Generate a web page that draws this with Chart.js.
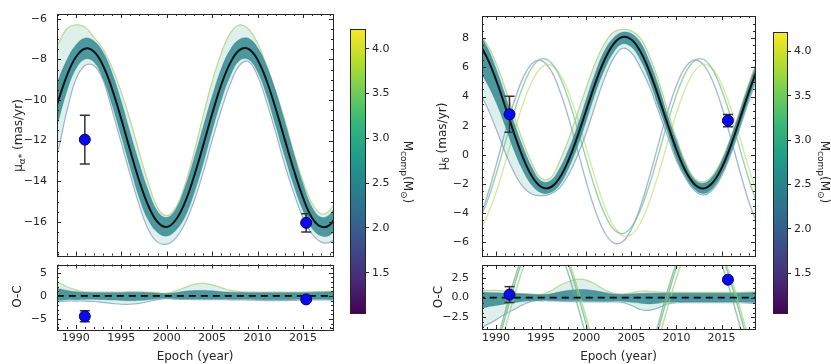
<!DOCTYPE html>
<html>
<head>
<meta charset="utf-8">
<script src="https://cdn.jsdelivr.net/npm/chart.js@4.4.1/dist/chart.umd.min.js"></script>
<style>
html, body { margin: 0; padding: 0; background: #fff; }
#fig { position: relative; width: 831px; height: 364px; overflow: hidden; }
#fig canvas { position: absolute; }
</style>
</head>
<body>
<div id="fig">
  <canvas id="muaMain" width="345" height="262" style="left:0;top:0"></canvas>
  <canvas id="muaRes" width="345" height="106" style="left:0;top:258px"></canvas>
  <canvas id="muaBar" width="80" height="330" style="left:340px;top:0"></canvas>
  <canvas id="mudMain" width="345" height="262" style="left:420px;top:0"></canvas>
  <canvas id="mudRes" width="345" height="106" style="left:420px;top:258px"></canvas>
  <canvas id="mudBar" width="68" height="330" style="left:763px;top:0"></canvas>
</div>
<script>
// sampled epochs of the orbit curves (years)
var epochs = [1987,1988,1989,1990,1991,1992,1993,1994,1995,1996,1997,1998,1999,2000,2001,2002,2003,2004,2005,2006,2007,2008,2009,2010,2011,2012,2013,2014,2015,2016,2017,2018,2019];

// tick labels
var epochTicks = [1990, 1995, 2000, 2005, 2010, 2015];
var muaTicks = [-16, -14, -12, -10, -8, -6];
var muaResTicks = [-5, 0, 5];
var mudTicks = [-6, -4, -2, 0, 2, 4, 6, 8];
var mudResTicks = [-2.5, 0, 2.5];
var massTicks = [1.5, 2.0, 2.5, 3.0, 3.5, 4.0];
var massRange = [1.05, 4.22];

// mu_alpha* : best orbit, dense spread of draws, outer envelope of draws
var muaBest = [-11.71,-10.16,-8.83,-7.89,-7.47,-7.61,-8.30,-9.46,-10.92,-12.50,-14.00,-15.22,-16.01,-16.25,-15.91,-15.06,-13.78,-12.27,-10.69,-9.26,-8.17,-7.54,-7.48,-8.01,-9.05,-10.43,-11.95,-13.46,-14.81,-15.81,-16.24,-16.13,-15.43];
var muaInHi = [-10.54,-9.12,-8.05,-7.30,-6.95,-7.09,-7.65,-8.68,-10.07,-11.65,-13.15,-14.50,-15.49,-15.79,-15.39,-14.34,-12.93,-11.36,-9.84,-8.48,-7.52,-7.02,-6.96,-7.42,-8.33,-9.58,-11.10,-12.68,-14.16,-15.29,-15.78,-15.61,-14.78];
var muaInLo = [-12.88,-11.20,-9.61,-8.48,-7.99,-8.13,-8.95,-10.24,-11.77,-13.35,-14.85,-15.94,-16.53,-16.71,-16.43,-15.78,-14.63,-13.18,-11.54,-10.04,-8.82,-8.06,-8.00,-8.60,-9.77,-11.28,-12.80,-14.24,-15.46,-16.33,-16.70,-16.65,-16.08];
var muaOutHi = [-8.0,-7.3,-6.5,-6.3,-6.4,-6.9,-7.5,-8.4,-9.6,-11.0,-12.6,-14.1,-15.3,-15.7,-15.3,-14.2,-12.6,-10.8,-9.1,-7.7,-6.7,-6.3,-6.5,-7.2,-8.3,-9.6,-11.0,-12.6,-14.0,-15.1,-15.6,-15.4,-14.6];
var muaOutLo = [-14.0,-12.6,-10.6,-9.0,-8.3,-8.3,-9.0,-10.5,-12.1,-13.7,-15.2,-16.4,-17.0,-17.1,-16.8,-16.1,-15.0,-13.6,-12.0,-10.5,-9.2,-8.3,-8.1,-8.8,-10.1,-11.6,-13.2,-14.6,-15.8,-16.6,-17.0,-17.0,-16.6];
var muaResInHi = [1.9,1.6,1.2,0.9,0.75,0.7,0.7,0.7,0.7,0.75,0.75,0.7,0.6,0.5,0.7,1.0,1.15,1.2,1.1,0.9,0.8,0.75,0.7,0.7,0.7,0.7,0.7,0.7,0.7,0.75,0.8,0.85,0.9];
var muaResInLo = [-1.2,-1.0,-0.8,-0.8,-0.75,-0.75,-0.8,-0.9,-1.0,-1.05,-1.0,-0.85,-0.6,-0.5,-0.6,-0.65,-0.65,-0.65,-0.65,-0.65,-0.7,-0.7,-0.7,-0.75,-0.8,-0.8,-0.8,-0.75,-0.7,-0.7,-0.7,-0.75,-0.8];
var muaResOutHi = [3.8,3.0,2.0,1.3,0.9,0.85,0.85,0.85,0.85,0.9,0.9,0.85,0.7,0.6,1.1,1.8,2.5,2.7,2.4,1.8,1.2,0.95,0.85,0.85,0.85,0.85,0.85,0.85,0.85,0.9,0.95,1.0,1.1];
var muaResOutLo = [-1.8,-1.3,-1.1,-1.1,-1.1,-1.2,-1.4,-1.6,-1.8,-1.8,-1.6,-1.2,-0.8,-0.6,-0.7,-0.75,-0.8,-0.8,-0.8,-0.8,-0.85,-0.85,-0.9,-0.95,-1.0,-1.0,-1.0,-0.95,-0.9,-0.85,-0.85,-0.9,-0.95];

// mu_delta
var mudBest = [8.10,7.69,6.67,5.15,3.35,1.48,-0.20,-1.48,-2.19,-2.24,-1.62,-0.42,1.21,3.06,4.90,6.47,7.58,8.08,7.91,7.09,5.73,4.00,2.13,0.35,-1.09,-2.01,-2.30,-1.91,-0.90,0.60,2.41,4.27,5.96];
var mudInHi = [8.6,8.3,7.4,5.9,4.1,2.2,0.5,-0.9,-1.8,-1.8,-1.0,0.3,1.9,3.8,5.6,7.1,8.0,8.4,8.3,7.7,6.4,4.7,2.7,0.95,-0.65,-1.7,-1.95,-1.5,-0.45,1.1,2.9,4.75,6.45];
var mudInLo = [6.6,5.9,4.9,3.6,2.0,0.3,-1.1,-2.1,-2.6,-2.6,-2.1,-1.0,0.5,2.3,4.2,5.8,7.0,7.6,7.4,6.5,5.1,3.3,1.6,-0.25,-1.5,-2.35,-2.65,-2.3,-1.35,0.1,1.9,3.8,5.5];
var mudOutHi = [8.8,8.4,7.6,6.3,4.6,2.7,0.9,-0.6,-1.6,-1.6,-0.5,1.0,2.8,4.6,6.3,7.6,8.4,8.6,8.5,8.0,6.8,5.1,3.1,1.1,-0.5,-1.6,-1.85,-1.4,-0.35,1.2,3.0,4.9,6.6];
var mudOutLo = [5.5,4.5,3.3,1.8,0.2,-1.2,-2.2,-2.7,-2.8,-2.7,-2.3,-1.4,-0.1,1.5,3.4,5.2,6.6,7.3,7.0,6.0,4.7,3.0,1.3,-0.4,-1.6,-2.45,-2.75,-2.4,-1.45,0.0,1.8,3.65,5.35];
var mudAlt1 = [-5.33,-4.62,-3.23,-1.35,0.79,2.90,4.72,6.00,6.58,6.38,5.44,3.86,1.87,-0.29,-2.34,-4.00,-5.07,-5.40,-4.95,-3.79,-2.05,0.03,2.18,4.13,5.62,6.46,6.54,5.85,4.47,2.60,0.46,-1.65,-3.47];
var mudAlt2 = [-5.60,-5.27,-4.22,-2.59,-0.58,1.55,3.51,5.05,5.98,6.18,5.61,4.35,2.56,0.49,-1.61,-3.47,-4.83,-5.53,-5.47,-4.67,-3.22,-1.31,0.81,2.86,4.57,5.74,6.20,5.89,4.86,3.23,1.23,-0.89,-2.86];
var mudAlt3 = [-5.75,-4.63,-2.88,-0.74,1.53,3.63,5.28,6.27,6.47,5.87,4.52,2.62,0.40,-1.84,-3.82,-5.28,-6.03,-5.96,-5.10,-3.55,-1.52,0.74,2.93,4.76,6.01,6.50,6.17,5.07,3.33,1.19,-1.07,-3.18,-4.84];
var mudResInHi = [1.1,0.8,0.65,0.6,0.55,0.5,0.45,0.4,0.35,0.45,0.7,0.9,1.0,1.0,0.85,0.65,0.45,0.4,0.45,0.5,0.55,0.55,0.55,0.55,0.55,0.55,0.55,0.55,0.55,0.55,0.55,0.6,0.65];
var mudResInLo = [-1.9,-1.5,-1.2,-1.0,-0.8,-0.65,-0.5,-0.4,-0.35,-0.35,-0.4,-0.4,-0.4,-0.45,-0.45,-0.45,-0.45,-0.45,-0.6,-0.7,-0.8,-0.7,-0.6,-0.55,-0.55,-0.55,-0.55,-0.55,-0.55,-0.55,-0.55,-0.6,-0.65];
var mudResOutHi = [1.5,1.0,0.9,0.9,0.8,0.6,0.5,0.45,0.4,0.8,1.5,2.0,2.3,2.2,1.7,1.0,0.55,0.45,0.6,0.8,0.8,0.7,0.65,0.65,0.65,0.65,0.65,0.65,0.65,0.65,0.65,0.7,0.75];
var mudResOutLo = [-4.8,-4.0,-3.4,-2.8,-2.1,-1.5,-0.9,-0.45,-0.4,-0.4,-0.45,-0.5,-0.5,-0.55,-0.55,-0.55,-0.55,-0.6,-1.0,-1.5,-1.6,-1.3,-0.8,-0.65,-0.65,-0.65,-0.65,-0.65,-0.65,-0.65,-0.65,-0.7,-0.75];
var mudResAlt1 = [-13.43,-12.31,-9.90,-6.50,-2.56,1.42,4.92,7.48,8.77,8.62,7.06,4.28,0.66,-3.35,-7.24,-10.47,-12.65,-13.48,-12.86,-10.88,-7.78,-3.97,0.05,3.78,6.71,8.47,8.84,7.76,5.37,2.00,-1.95,-5.92,-9.43];
var mudResAlt2 = [-13.70,-12.96,-10.89,-7.74,-3.93,0.07,3.71,6.53,8.17,8.42,7.23,4.77,1.35,-2.57,-6.51,-9.94,-12.41,-13.61,-13.38,-11.76,-8.95,-5.31,-1.32,2.51,5.66,7.75,8.50,7.80,5.76,2.63,-1.18,-5.16,-8.82];
var mudResAlt3 = [-13.85,-12.32,-9.55,-5.89,-1.82,2.15,5.48,7.75,8.66,8.11,6.14,3.04,-0.81,-4.90,-8.72,-11.75,-13.61,-14.04,-13.01,-10.64,-7.25,-3.26,0.80,4.41,7.10,8.51,8.47,6.98,4.23,0.59,-3.48,-7.45,-10.80];

// Hipparcos / Gaia measurements
var muaObsEpoch = [1991.0, 2015.35];
var muaObs = [-11.95, -16.05];
var muaObsErr = [1.2, 0.45];
var muaResObs = [-4.4, -0.75];
var muaResErr = [1.2, 0.45];
var mudObsEpoch = [1991.5, 2015.7];
var mudObs = [2.78, 2.35];
var mudObsErr = [1.23, 0.42];
var mudResObs = [0.38, 2.25];
var mudResErr = [1.0, 0.2];

Chart.defaults.font.family = '"DejaVu Sans", sans-serif';
Chart.defaults.font.size = 11;
Chart.defaults.color = '#262626';
Chart.defaults.animation = false;

var ink = '#262626';
var viridis = ['#440154','#482878','#3e4989','#31688e','#26828e','#1f9e89','#35b779','#6ece58','#b5de2b','#fde725'];
var bandFill = 'rgba(40,130,140,0.8)';
var bandTop = 'rgba(60,110,150,0.55)';
var bandBottom = 'rgba(100,185,150,0.55)';
var hazeFill = 'rgba(90,175,160,0.2)';
var hazeTop = 'rgba(165,212,110,0.75)';
var hazeBottom = 'rgba(100,130,185,0.6)';

function pts(xs, ys) {
    return xs.map(function(x, i) { return {x: x, y: ys[i]}; });
}

function errPts(xs, ys, es) {
    var out = [];
    xs.forEach(function(x, i) {
        out.push({x: x, y: ys[i] + es[i]}, {x: x, y: ys[i] - es[i]}, {x: x, y: null});
    });
    return out;
}

function fmt(v, dec) {
    return (dec ? v.toFixed(dec) : String(v)).replace('-', '\u2212');
}

function curve(data, color, width, order, extra) {
    return Object.assign({data: data, borderColor: color, borderWidth: width, pointRadius: 0,
        tension: 0.4, fill: false, order: order}, extra || {});
}

function obsSets(xs, ys, es) {
    return [
        {data: pts(xs, ys), showLine: false, pointRadius: 5.5, pointBackgroundColor: '#0a0af2',
         pointBorderColor: '#000060', pointBorderWidth: 1, order: 0},
        {data: errPts(xs, ys, es), borderColor: '#333', borderWidth: 1.5, pointStyle: 'line',
         pointRadius: 5, pointBorderColor: '#333', pointBorderWidth: 1.5, spanGaps: false, order: 1}
    ];
}

function bandSets(inHi, inLo, outHi, outLo) {
    return [
        curve(pts(epochs, inHi), bandTop, 0.8, 3, {fill: '+1', backgroundColor: bandFill}),
        curve(pts(epochs, inLo), bandBottom, 0.8, 4),
        curve(pts(epochs, outHi), hazeTop, 1.2, 5, {fill: '+1', backgroundColor: hazeFill}),
        curve(pts(epochs, outLo), hazeBottom, 1.2, 6)
    ];
}

// inward ticks on all four sides and the axes frame
var frameTicks = {
    id: 'frameTicks',
    afterDatasetsDraw: function(chart, args, o) {
        var a = chart.chartArea, x = chart.scales.x, y = chart.scales.y, ctx = chart.ctx;
        ctx.save();
        ctx.strokeStyle = ink;
        ctx.lineWidth = 1;
        ctx.beginPath();
        function vx(v, len) {
            var p = Math.round(x.getPixelForValue(v)) + 0.5;
            ctx.moveTo(p, a.bottom); ctx.lineTo(p, a.bottom - len);
            ctx.moveTo(p, a.top); ctx.lineTo(p, a.top + len);
        }
        function hy(v, len) {
            var p = Math.round(y.getPixelForValue(v)) + 0.5;
            ctx.moveTo(a.left, p); ctx.lineTo(a.left + len, p);
            ctx.moveTo(a.right, p); ctx.lineTo(a.right - len, p);
        }
        o.xTicks.forEach(function(v) { vx(v, 4); });
        o.yTicks.forEach(function(v) { hy(v, 4); });
        for (var k = Math.ceil(x.min / o.xMinor); k * o.xMinor <= x.max; k++) vx(k * o.xMinor, 2);
        for (var j = Math.ceil(y.min / o.yMinor); j * o.yMinor <= y.max; j++) hy(j * o.yMinor, 2);
        ctx.stroke();
        ctx.strokeRect(Math.round(a.left) + 0.5, Math.round(a.top) + 0.5,
            Math.round(a.right - a.left), Math.round(a.bottom - a.top));
        ctx.restore();
    }
};

// rotated labels with subscripts
var richText = {
    id: 'richText',
    afterDraw: function(chart, args, o) {
        var ctx = chart.ctx;
        (o.items || []).forEach(function(it) {
            var big = it.size, small = Math.round(it.size * 0.72);
            ctx.save();
            ctx.translate(it.x, it.y);
            ctx.rotate(it.rot);
            ctx.fillStyle = ink;
            ctx.textBaseline = 'middle';
            ctx.textAlign = 'left';
            var w = 0;
            it.parts.forEach(function(p) {
                ctx.font = (p[1] ? small : big) + 'px "DejaVu Sans"';
                w += ctx.measureText(p[0]).width;
            });
            var cx = -w / 2;
            it.parts.forEach(function(p) {
                ctx.font = (p[1] ? small : big) + 'px "DejaVu Sans"';
                ctx.fillText(p[0], cx, p[1] ? big * 0.32 : 0);
                cx += ctx.measureText(p[0]).width;
            });
            ctx.restore();
        });
    }
};

var cbFill = {
    id: 'cbFill',
    beforeDatasetsDraw: function(chart) {
        var a = chart.chartArea, ctx = chart.ctx;
        var g = ctx.createLinearGradient(0, a.bottom, 0, a.top);
        viridis.forEach(function(c, i) { g.addColorStop(i / (viridis.length - 1), c); });
        ctx.save();
        ctx.fillStyle = g;
        ctx.fillRect(a.left, a.top, a.right - a.left, a.bottom - a.top);
        ctx.strokeStyle = ink;
        ctx.lineWidth = 1;
        ctx.strokeRect(Math.round(a.left) + 0.5, Math.round(a.top) + 0.5,
            Math.round(a.right - a.left), Math.round(a.bottom - a.top));
        ctx.restore();
    }
};

function panel(id, o) {
    var xScale = {type: 'linear', min: o.xr[0], max: o.xr[1], display: !!o.showX};
    if (o.showX) {
        Object.assign(xScale, {
            afterBuildTicks: function(s) { s.ticks = epochTicks.map(function(v) { return {value: v}; }); },
            afterFit: function(s) { s.height = 35; s.paddingLeft = 0; s.paddingRight = 0; },
            grid: {display: false, drawTicks: false}, border: {display: false},
            ticks: {autoSkip: false, maxRotation: 0, padding: 3, callback: function(v) { return String(v); }},
            title: {display: true, text: 'Epoch (year)', font: {size: 12}, padding: 0}
        });
    }
    return new Chart(document.getElementById(id), {
        type: 'line',
        data: {datasets: o.datasets},
        options: {
            responsive: false,
            events: [],
            layout: {padding: o.pad},
            scales: {
                x: xScale,
                y: {
                    type: 'linear', min: o.yr[0], max: o.yr[1],
                    afterBuildTicks: function(s) { s.ticks = o.yTicks.map(function(v) { return {value: v}; }); },
                    afterFit: function(s) { s.width = o.yW; s.paddingTop = 0; s.paddingBottom = 0; },
                    grid: {display: false, drawTicks: false}, border: {display: false},
                    ticks: {autoSkip: false, padding: o.yPad, callback: function(v) { return fmt(v, o.dec); }}
                }
            },
            plugins: {
                legend: {display: false},
                tooltip: {enabled: false},
                frameTicks: {xTicks: epochTicks, yTicks: o.yTicks, xMinor: 1, yMinor: o.yMinor},
                richText: {items: [o.label]}
            }
        },
        plugins: [frameTicks, richText]
    });
}

function colorbar(id, o) {
    return new Chart(document.getElementById(id), {
        type: 'line',
        data: {datasets: []},
        options: {
            responsive: false,
            events: [],
            layout: {padding: o.pad},
            scales: {
                x: {type: 'linear', display: false, min: 0, max: 1},
                y: {
                    type: 'linear', position: 'right', min: massRange[0], max: massRange[1],
                    afterBuildTicks: function(s) { s.ticks = massTicks.map(function(v) { return {value: v}; }); },
                    afterFit: function(s) { s.width = o.w; s.paddingTop = 0; s.paddingBottom = 0; },
                    grid: {drawOnChartArea: false, drawTicks: true, tickLength: 4, color: ink},
                    border: {display: false},
                    ticks: {autoSkip: false, padding: 3, callback: function(v) { return v.toFixed(1); }}
                }
            },
            plugins: {legend: {display: false}, tooltip: {enabled: false}, richText: {items: [o.label]}}
        },
        plugins: [cbFill, richText]
    });
}

var massLabel = [['M', 0], ['comp', 1], ['(M', 0], ['\u2299', 1], [')', 0]];

panel('muaMain', {
    xr: [1987.94, 2018.3], yr: [-17.66, -5.76], yTicks: muaTicks, yMinor: 0.5, yW: 57, yPad: 10,
    pad: {top: 14, right: 12, bottom: 5, left: 0},
    label: {x: 18.5, y: 135.5, rot: -Math.PI / 2, size: 12, parts: [['\u03bc', 0], ['\u03b1*', 1], [' (mas/yr)', 0]]},
    datasets: obsSets(muaObsEpoch, muaObs, muaObsErr).concat(
        [curve(pts(epochs, muaBest), '#061414', 2, 2)],
        bandSets(muaInHi, muaInLo, muaOutHi, muaOutLo))
});

panel('muaRes', {
    xr: [1987.94, 2018.3], yr: [-7.15, 6.8], yTicks: muaResTicks, yMinor: 1, yW: 57, yPad: 10, showX: true,
    pad: {top: 6, right: 12, bottom: 0, left: 0},
    label: {x: 17.5, y: 38.5, rot: -Math.PI / 2, size: 12, parts: [['O-C', 0]]},
    datasets: obsSets(muaObsEpoch, muaResObs, muaResErr).concat(
        [curve(pts([1980, 2025], [0, 0]), '#000', 1.8, 2, {borderDash: [7, 5], tension: 0})],
        bandSets(muaResInHi, muaResInLo, muaResOutHi, muaResOutLo))
});

colorbar('muaBar', {pad: {top: 29, right: 0, bottom: 17, left: 10}, w: 55,
    label: {x: 67, y: 172, rot: Math.PI / 2, size: 12, parts: massLabel}});

panel('mudMain', {
    xr: [1988.45, 2018.7], yr: [-6.9, 9.52], yTicks: mudTicks, yMinor: 0.5, yW: 62, yPad: 13,
    pad: {top: 16, right: 10, bottom: 5, left: 0},
    label: {x: 23, y: 136.5, rot: -Math.PI / 2, size: 12, parts: [['\u03bc', 0], ['\u03b4', 1], [' (mas/yr)', 0]]},
    datasets: obsSets(mudObsEpoch, mudObs, mudObsErr).concat(
        [curve(pts(epochs, mudBest), '#061414', 2, 2)],
        bandSets(mudInHi, mudInLo, mudOutHi, mudOutLo),
        [curve(pts(epochs, mudAlt1), 'rgba(120,195,140,0.75)', 1.4, 7),
         curve(pts(epochs, mudAlt2), 'rgba(190,225,110,0.65)', 1.4, 8),
         curve(pts(epochs, mudAlt3), 'rgba(110,140,190,0.6)', 1.4, 9)])
});

panel('mudRes', {
    xr: [1988.45, 2018.7], yr: [-3.95, 4.1], yTicks: mudResTicks, yMinor: 0.625, yW: 62, yPad: 13, dec: 1, showX: true,
    pad: {top: 7, right: 10, bottom: 0, left: 0},
    label: {x: 18.5, y: 39, rot: -Math.PI / 2, size: 12, parts: [['O-C', 0]]},
    datasets: obsSets(mudObsEpoch, mudResObs, mudResErr).concat(
        [curve(pts([1980, 2025], [0, 0]), '#000', 1.8, 2, {borderDash: [7, 5], tension: 0}),
         curve(pts(epochs, mudResAlt1), 'rgba(110,190,130,0.8)', 1.4, 2.5),
         curve(pts(epochs, mudResAlt2), 'rgba(150,210,120,0.7)', 1.4, 2.6),
         curve(pts(epochs, mudResAlt3), 'rgba(110,170,150,0.7)', 1.4, 2.7)],
        bandSets(mudResInHi, mudResInLo, mudResOutHi, mudResOutLo))
});

colorbar('mudBar', {pad: {top: 32, right: 0, bottom: 17, left: 10}, w: 44,
    label: {x: 61, y: 172, rot: Math.PI / 2, size: 12, parts: massLabel}});
</script>
</body>
</html>
